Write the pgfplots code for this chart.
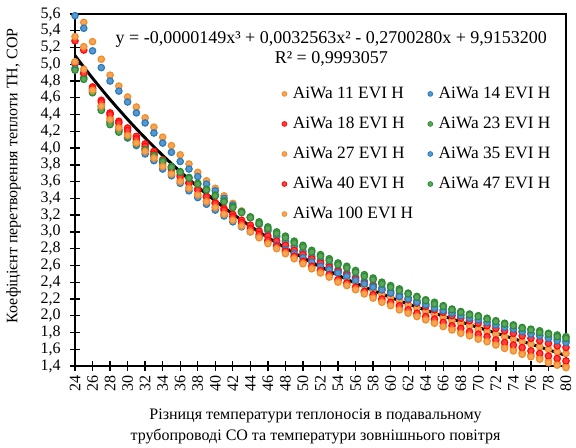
\documentclass[border=0pt]{standalone}
\usepackage{fontspec}
\setmainfont{Liberation Serif}
\usepackage{pgfplots}
\pgfplotsset{compat=1.18}
\usepackage{pgfplotstable}

\definecolor{cOr}{HTML}{F28C28}
\definecolor{cBl}{HTML}{2A7BBD}
\definecolor{cRd}{HTML}{FF0A0A}
\definecolor{cGr}{HTML}{2E8B32}

% COP of each heat pump vs. temperature difference; fit = trend line
\pgfplotstableread{
x  s11  s14  s18  s23  s27  s35  s40  s47  s100 fit
24 nan  5.58 5.28 4.95 5.33 5.00 5.02 4.93 5.03 5.104
25 5.50 5.43 5.17 4.84 5.21 4.90 4.89 4.82 4.94 4.967
26 5.27 5.16 4.73 4.67 4.71 4.69 4.71 4.66 4.69 4.834
27 5.06 4.96 4.57 4.46 4.51 4.49 4.55 4.45 4.50 4.705
28 4.87 4.80 4.42 4.31 4.36 4.31 4.40 4.28 4.34 4.580
29 4.74 4.68 4.32 4.22 4.26 4.21 4.30 4.19 4.24 4.460
30 4.61 4.55 4.24 4.15 4.17 4.12 4.21 4.13 4.15 4.343
31 4.49 4.42 4.14 4.07 4.08 4.03 4.11 4.05 4.06 4.230
32 4.36 4.30 4.05 3.99 3.98 3.93 4.02 3.98 3.96 4.121
33 4.25 4.18 3.96 3.92 3.90 3.85 3.93 3.91 3.88 4.015
34 4.13 4.06 3.86 3.85 3.80 3.75 3.83 3.84 3.78 3.913
35 4.03 3.95 3.77 3.78 3.71 3.67 3.75 3.77 3.69 3.815
36 3.92 3.84 3.68 3.72 3.62 3.58 3.66 3.71 3.60 3.719
37 3.81 3.75 3.59 3.65 3.53 3.49 3.58 3.64 3.52 3.627
38 3.71 3.66 3.51 3.58 3.45 3.41 3.50 3.57 3.44 3.539
39 3.61 3.57 3.42 3.51 3.37 3.33 3.42 3.50 3.36 3.453
40 3.52 3.49 3.35 3.44 3.30 3.26 3.34 3.43 3.29 3.371
41 3.43 3.40 3.28 3.37 3.22 3.19 3.26 3.36 3.21 3.291
42 3.34 3.32 3.21 3.30 3.15 3.12 3.18 3.29 3.14 3.214
43 3.25 3.24 3.14 3.24 3.08 3.06 3.11 3.23 3.07 3.140
44 3.17 3.17 3.08 3.18 3.01 3.00 3.04 3.17 3.00 3.069
45 3.09 3.09 3.01 3.12 2.94 2.94 2.97 3.10 2.93 3.000
46 3.01 3.02 2.95 3.06 2.88 2.89 2.90 3.04 2.86 2.934
47 2.94 2.95 2.89 3.00 2.82 2.84 2.83 2.98 2.80 2.870
48 2.87 2.89 2.84 2.95 2.76 2.79 2.77 2.93 2.74 2.809
49 2.80 2.83 2.78 2.89 2.70 2.74 2.71 2.87 2.68 2.749
50 2.74 2.77 2.73 2.84 2.64 2.69 2.65 2.82 2.62 2.692
51 2.68 2.71 2.68 2.78 2.58 2.64 2.59 2.76 2.56 2.637
52 2.62 2.66 2.63 2.73 2.53 2.59 2.54 2.71 2.51 2.584
53 2.56 2.61 2.58 2.68 2.48 2.55 2.49 2.66 2.46 2.533
54 2.51 2.55 2.53 2.63 2.42 2.51 2.43 2.61 2.40 2.483
55 2.46 2.51 2.49 2.59 2.38 2.47 2.39 2.57 2.36 2.435
56 2.41 2.46 2.44 2.54 2.33 2.42 2.34 2.52 2.31 2.389
57 2.36 2.41 2.39 2.49 2.28 2.38 2.29 2.47 2.26 2.344
58 2.31 2.37 2.35 2.45 2.23 2.34 2.25 2.43 2.21 2.301
59 2.26 2.33 2.31 2.40 2.18 2.31 2.20 2.38 2.16 2.259
60 2.22 2.29 2.27 2.36 2.14 2.27 2.16 2.34 2.12 2.218
61 2.18 2.25 2.23 2.32 2.09 2.23 2.12 2.30 2.07 2.178
62 2.13 2.21 2.19 2.27 2.05 2.20 2.07 2.26 2.03 2.140
63 2.09 2.18 2.15 2.23 2.01 2.16 2.03 2.22 1.99 2.102
64 2.05 2.14 2.11 2.19 1.96 2.13 1.99 2.18 1.95 2.065
65 2.02 2.11 2.07 2.16 1.92 2.09 1.96 2.14 1.91 2.030
66 1.98 2.07 2.04 2.12 1.88 2.06 1.92 2.11 1.87 1.994
67 1.94 2.04 2.00 2.08 1.84 2.03 1.88 2.07 1.83 1.960
68 1.91 2.01 1.97 2.05 1.81 2.00 1.85 2.04 1.79 1.926
69 1.88 1.98 1.94 2.02 1.77 1.97 1.81 2.01 1.76 1.892
70 1.84 1.95 1.91 2.00 1.74 1.95 1.78 1.99 1.72 1.859
71 1.81 1.92 1.88 1.97 1.70 1.92 1.75 1.96 1.69 1.826
72 1.78 1.89 1.85 1.94 1.67 1.89 1.71 1.93 1.65 1.793
73 1.75 1.87 1.82 1.91 1.63 1.86 1.68 1.90 1.61 1.760
74 1.72 1.84 1.79 1.89 1.60 1.84 1.65 1.88 1.58 1.727
75 1.69 1.81 1.76 1.86 1.56 1.81 1.62 1.85 1.54 1.694
76 1.66 1.79 1.73 1.84 1.53 1.78 1.58 1.83 1.51 1.661
77 1.63 1.77 1.70 1.82 1.50 1.76 1.55 1.80 1.48 1.627
78 1.60 1.74 1.67 1.79 1.46 1.73 1.52 1.78 1.44 1.594
79 1.57 1.72 1.64 1.77 1.43 1.70 1.49 1.75 1.41 1.559
80 1.55 1.70 1.62 1.75 1.40 1.68 1.46 1.73 1.38 1.525
}\cop

\pgfplotsset{
  dots/.style={only marks, mark=*, mark size=2.4pt, line width=0.9pt,
    draw=#1, fill=#1!78!white},
}

\begin{document}
\begin{tikzpicture}
\useasboundingbox (-56.25pt,-61.5pt) rectangle (375.75pt,274.5pt);
\begin{axis}[
  scale only axis,
  width=368.25pt, height=264pt,
  xmin=24, xmax=80, ymin=1.4, ymax=5.6,
  xtick={24,26,...,80},
  ytick={1.4,1.6,1.8,2.0,2.2,2.4,2.6,2.8,3.0,3.2,3.4,3.6,3.8,4.0,4.2,4.4,4.6,4.8,5.0,5.2,5.4,5.6},
  xtick pos=bottom, ytick pos=left,
  tick align=center, major tick length=7.5pt,
  tick style={black, line width=1pt},
  axis line style={black, line width=1pt},
  clip=false,
  /pgf/number format/assume math mode=true,
  yticklabel style={/pgf/number format/.cd, use comma, fixed, fixed zerofill, precision=1, /tikz/.cd,
    font=\fontsize{12}{13}\selectfont, xshift=-3.5pt},
  xticklabel style={rotate=90, anchor=east, font=\fontsize{12}{13}\selectfont},
  ylabel={Коефіцієнт перетворення теплоти ТН, COP},
  ylabel style={at={(axis description cs:-0.125,0.54)}, anchor=center, font=\fontsize{12}{14}\selectfont},
  xlabel={Різниця температури теплоносія в подавальному\\трубопроводі СО та температури зовнішнього повітря},
  xlabel style={at={(axis description cs:0.49,-0.172)}, anchor=center, align=center, font=\fontsize{12}{15.5}\selectfont},
  legend columns=2,
  legend cell align=left,
  legend image code/.code={\draw[#1, mark size=1.8pt, line width=0.6pt] plot coordinates {(0pt,0pt)};},
  legend style={draw=none, fill=none, at={(rel axis cs:0.413,0.808)}, anchor=north west,
    font=\fontsize{13}{14}\selectfont,
    /tikz/every odd column/.append style={column sep=2.5pt},
    /tikz/every even column/.append style={column sep=9pt},
    row sep=8.4pt},
]
\addplot[dots=cOr] table[x=x, y=s11] {\cop};
\addlegendentry{AiWa 11 EVI H}
\addplot[dots=cBl] table[x=x, y=s14] {\cop};
\addlegendentry{AiWa 14 EVI H}
\addplot[dots=cRd] table[x=x, y=s18] {\cop};
\addlegendentry{AiWa 18 EVI H}
\addplot[dots=cGr] table[x=x, y=s23] {\cop};
\addlegendentry{AiWa 23 EVI H}
\addplot[dots=cOr] table[x=x, y=s27] {\cop};
\addlegendentry{AiWa 27 EVI H}
\addplot[dots=cBl] table[x=x, y=s35] {\cop};
\addlegendentry{AiWa 35 EVI H}
\addplot[dots=cRd] table[x=x, y=s40] {\cop};
\addlegendentry{AiWa 40 EVI H}
\addplot[dots=cGr] table[x=x, y=s47] {\cop};
\addlegendentry{AiWa 47 EVI H}
\addplot[dots=cOr] table[x=x, y=s100] {\cop};
\addlegendentry{AiWa 100 EVI H}
% polynomial trend line
\addplot[black, line width=2.2pt, smooth, forget plot] table[x=x, y=fit] {\cop};
\node[align=center, font=\fontsize{13.5}{15}\selectfont] at (rel axis cs:0.522,0.9)
  {y = -0,0000149x³ + 0,0032563x² - 0,2700280x + 9,9153200\\R² = 0,9993057};
\end{axis}
\end{tikzpicture}
\end{document}
